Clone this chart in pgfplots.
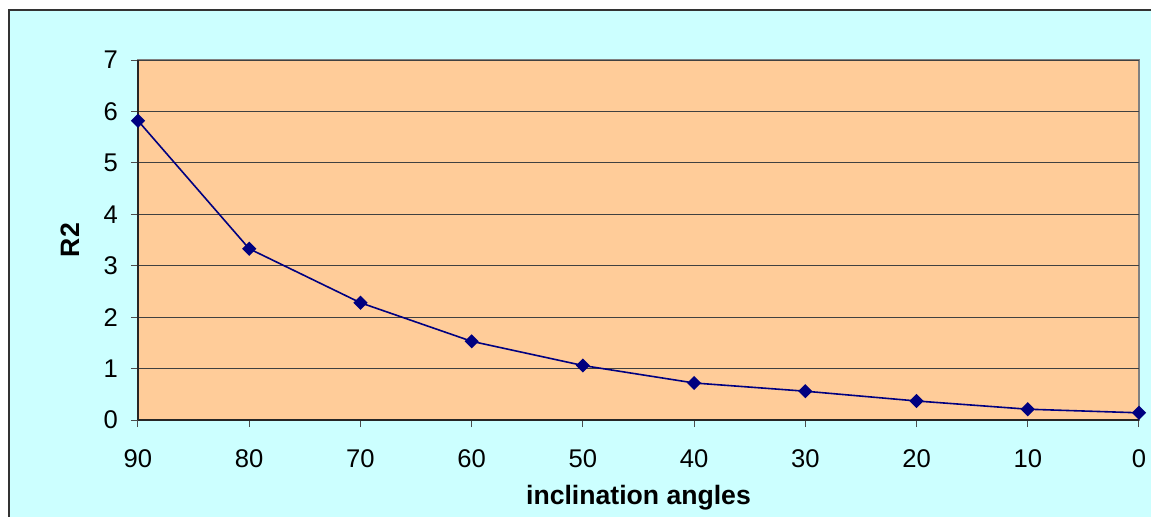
\documentclass[border=0pt]{standalone}
\usepackage{fontspec}
\setmainfont{Liberation Sans}
\usepackage{pgfplots}
\pgfplotsset{compat=1.18}
\definecolor{bgcyan}{HTML}{CCFFFF}
\definecolor{peach}{HTML}{FFCC99}
\definecolor{navy}{HTML}{000080}
\begin{document}
\begin{tikzpicture}
\useasboundingbox (-69pt,-48pt) rectangle (506.5pt,210pt);
\fill[white] (-69pt,-48pt) rectangle (506.5pt,210pt);
\begin{scope}
\clip (-69pt,-48pt) rectangle (506.5pt,210pt);
\filldraw[fill=bgcyan, draw=black!80, line width=0.7pt] (-64.5pt,-60pt) rectangle (520pt,205pt);
\end{scope}
\begin{axis}[
  at={(0,0)}, anchor=south west,
  scale only axis,
  width=500.5pt, height=180pt,
  xmin=0, xmax=90, x dir=reverse,
  ymin=0, ymax=7,
  xtick={0,10,...,90}, ytick={0,1,...,7},
  axis background/.style={fill=peach, draw=black!50, line width=0.6pt},
  axis x line*=bottom, axis y line*=left,
  axis line style={black!85, line width=0.6pt, -},
  tick align=outside,
  major tick length=3.5pt,
  tick style={black!70, line width=0.5pt},
  ymajorgrids, grid style={black!75, line width=0.5pt},
  /pgf/number format/assume math mode=true,
  tick label style={font=\fontsize{12.8}{15}\selectfont},
  xticklabel style={yshift=-8pt},
  yticklabel style={xshift=-3pt},
  label style={font=\fontsize{13.3}{15}\selectfont\bfseries},
  xlabel={inclination angles},
  ylabel={R2},
  xlabel style={at={(axis description cs:0.5,-0.215)}, anchor=center},
  ylabel style={at={(axis description cs:-0.068,0.5)}, anchor=center},
  clip=false,
]
\addplot[navy, line width=0.8pt, mark=square*, mark size=2.1pt, mark options={rotate=45, fill=navy, draw=navy}]
coordinates {
(90,5.82) (80,3.33) (70,2.28) (60,1.53) (50,1.06) (40,0.72) (30,0.56) (20,0.37) (10,0.21) (0,0.14)
};
\end{axis}
\end{tikzpicture}
\end{document}
